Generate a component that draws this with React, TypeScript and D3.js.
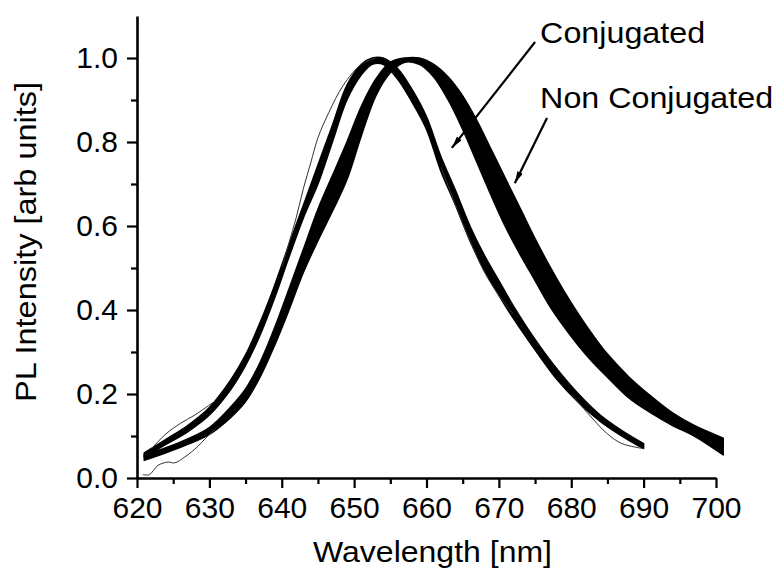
import React, { useEffect, useRef } from "react";
import * as d3 from "d3";

// ---- data ----
const X_MAJOR = [620, 630, 640, 650, 660, 670, 680, 690, 700];
const X_MINOR = [625, 635, 645, 655, 665, 675, 685, 695];
const Y_MAJOR = [0, 0.2, 0.4, 0.6, 0.8, 1.0];
const Y_MINOR = [0.1, 0.3, 0.5, 0.7, 0.9];

// red-shifted thick bundle envelope
const bandA_wl = [621, 624, 627, 630, 633, 635, 637, 639, 641, 643, 645, 647, 649, 651, 653, 655, 657, 659, 661, 663, 665, 667, 669, 671, 673, 675, 677, 679, 681, 683, 685, 688, 691, 694, 697, 701];
const bandA_hi = [0.056, 0.072, 0.093, 0.12, 0.17, 0.212, 0.275, 0.357, 0.45, 0.545, 0.64, 0.72, 0.8, 0.885, 0.95, 0.99, 1.0, 1.0, 0.985, 0.955, 0.91, 0.85, 0.78, 0.71, 0.64, 0.57, 0.505, 0.445, 0.39, 0.34, 0.295, 0.24, 0.195, 0.155, 0.125, 0.095];
const bandA_lo = [0.042, 0.06, 0.08, 0.104, 0.145, 0.182, 0.24, 0.315, 0.4, 0.49, 0.565, 0.635, 0.71, 0.815, 0.91, 0.965, 0.99, 0.985, 0.955, 0.9, 0.83, 0.75, 0.67, 0.595, 0.53, 0.47, 0.41, 0.36, 0.315, 0.275, 0.24, 0.19, 0.155, 0.125, 0.1, 0.055];

// blue-shifted thinner bundle envelope
const bandB_wl = [621, 624, 627, 630, 633, 635, 637, 639, 641, 643, 645, 647, 649, 651, 652.5, 654, 656, 658, 660, 662, 664, 666, 668, 670, 672, 675, 678, 681, 684, 687, 690];
const bandB_hi = [0.06, 0.092, 0.125, 0.168, 0.235, 0.293, 0.37, 0.458, 0.556, 0.65, 0.745, 0.84, 0.935, 0.985, 1.0, 1.0, 0.975, 0.925, 0.86, 0.765, 0.685, 0.6, 0.53, 0.47, 0.41, 0.33, 0.26, 0.2, 0.15, 0.113, 0.082];
const bandB_lo = [0.05, 0.08, 0.11, 0.15, 0.212, 0.268, 0.34, 0.428, 0.526, 0.62, 0.7, 0.8, 0.9, 0.96, 0.985, 0.985, 0.95, 0.895, 0.83, 0.73, 0.65, 0.565, 0.495, 0.435, 0.38, 0.305, 0.235, 0.18, 0.135, 0.1, 0.07];

// individual thin outlier traces
const thin1_wl = [640, 641, 642, 643, 644, 645, 646.5, 648.5, 651, 653];
const thin1_v = [0.5, 0.56, 0.62, 0.69, 0.75, 0.81, 0.87, 0.935, 0.985, 1.0];
const thin2_wl = [662, 664, 666, 668, 670, 672];
const thin2_v = [0.74, 0.65, 0.565, 0.49, 0.435, 0.39];
const thin3_wl = [680, 682.5, 685, 687, 690];
const thin3_v = [0.2, 0.15, 0.105, 0.082, 0.07];
const thin4_wl = [620.8, 621.7, 622.9, 624.3, 625.2, 626.6, 628.4, 629.5, 631];
const thin4_v = [0.008, 0.008, 0.03, 0.038, 0.036, 0.05, 0.075, 0.095, 0.12];
const thin5_wl = [622, 624, 626, 628, 630.5];
const thin5_v = [0.07, 0.105, 0.13, 0.15, 0.18];

const X_LABEL = "Wavelength [nm]";
const Y_LABEL = "PL Intensity [arb units]";
const ANN1 = "Conjugated";
const ANN2 = "Non Conjugated";
// arrow endpoints in data coordinates [tailWl, tailV, headWl, headV]
const ARROW1 = [675.0, 1.038, 663.5, 0.786];
const ARROW2 = [676.65, 0.857, 672.2, 0.702];
const ANN1_POS = [675.7, 1.036];
const ANN2_POS = [675.7, 0.881];

const FONT = "'Liberation Sans', Arial, Helvetica, sans-serif";

export default function App() {
  const ref = useRef<SVGSVGElement>(null);

  useEffect(() => {
    const svg = d3.select(ref.current);
    svg.selectAll("*").remove();
    const x = d3.scaleLinear().domain([620, 700]).range([137, 716]);
    const y = d3.scaleLinear().domain([0, 1.1]).range([478, 16]);

    const defs = svg.append("defs");
    defs
      .append("marker")
      .attr("id", "ah")
      .attr("viewBox", "0 0 12 6")
      .attr("refX", 12)
      .attr("refY", 3)
      .attr("markerWidth", 12)
      .attr("markerHeight", 6)
      .attr("markerUnits", "userSpaceOnUse")
      .attr("orient", "auto")
      .append("path")
      .attr("d", "M0,0 L12,3 L0,6 Z")
      .attr("fill", "#000");

    const curves = svg.append("g");
    const band = (wl: number[], hi: number[], lo: number[]) =>
      d3
        .area<number>()
        .x((_, i) => x(wl[i]))
        .y0((_, i) => y(lo[i]))
        .y1((_, i) => y(hi[i]))
        .curve(d3.curveCatmullRom.alpha(0.5))(wl);

    curves
      .append("path")
      .attr("d", band(bandB_wl, bandB_hi, bandB_lo) as string)
      .attr("fill", "#000")
      .attr("stroke", "#000")
      .attr("stroke-width", 1.5)
      .attr("stroke-linejoin", "round");
    curves
      .append("path")
      .attr("d", band(bandA_wl, bandA_hi, bandA_lo) as string)
      .attr("fill", "#000")
      .attr("stroke", "#000")
      .attr("stroke-width", 1.5)
      .attr("stroke-linejoin", "round");

    const thinLine = (wl: number[], v: number[]) =>
      d3
        .line<number>()
        .x((_, i) => x(wl[i]))
        .y((_, i) => y(v[i]))
        .curve(d3.curveCatmullRom.alpha(0.5))(wl);
    [
      [thin1_wl, thin1_v],
      [thin2_wl, thin2_v],
      [thin3_wl, thin3_v],
      [thin4_wl, thin4_v],
      [thin5_wl, thin5_v],
    ].forEach(([wl, v]) => {
      curves
        .append("path")
        .attr("d", thinLine(wl, v) as string)
        .attr("fill", "none")
        .attr("stroke", "#333")
        .attr("stroke-width", 1);
    });

    // axes
    const styleAxis = (g: d3.Selection<SVGGElement, unknown, null, undefined>) => {
      g.select(".domain").attr("stroke-width", 2.6).attr("stroke", "#000");
      g.selectAll(".tick line").attr("stroke-width", 2.2).attr("stroke", "#000");
      g.selectAll(".tick text")
        .attr("font-family", FONT)
        .attr("font-size", 30)
        .attr("fill", "#000");
    };

    const xMinor = svg.append("g").attr("transform", `translate(0,${y(0)})`);
    xMinor.call(d3.axisBottom(x).tickValues(X_MINOR).tickSize(6).tickSizeOuter(0).tickFormat(() => ""));
    xMinor.select(".domain").remove();
    xMinor.selectAll(".tick line").attr("stroke-width", 2.2);
    const yMinor = svg.append("g").attr("transform", `translate(${x(620)},0)`);
    yMinor.call(d3.axisLeft(y).tickValues(Y_MINOR).tickSize(6).tickSizeOuter(0).tickFormat(() => ""));
    yMinor.select(".domain").remove();
    yMinor.selectAll(".tick line").attr("stroke-width", 2.2);

    const xAxis = svg.append("g").attr("transform", `translate(0,${y(0)})`);
    xAxis.call(
      d3.axisBottom(x).tickValues(X_MAJOR).tickSize(10).tickSizeOuter(0).tickPadding(9).tickFormat(d3.format("d"))
    );
    styleAxis(xAxis);
    const yAxis = svg.append("g").attr("transform", `translate(${x(620)},0)`);
    yAxis.call(
      d3.axisLeft(y).tickValues(Y_MAJOR).tickSize(10).tickSizeOuter(0).tickPadding(9).tickFormat(d3.format(".1f"))
    );
    styleAxis(yAxis);

    // titles
    svg
      .append("text")
      .attr("x", 313)
      .attr("y", 562)
      .attr("font-family", FONT)
      .attr("font-size", 29)
      .attr("textLength", 239)
      .attr("lengthAdjust", "spacingAndGlyphs")
      .text(X_LABEL);
    svg
      .append("text")
      .attr("transform", `translate(36,402) rotate(-90)`)
      .attr("font-family", FONT)
      .attr("font-size", 29)
      .attr("textLength", 320)
      .attr("lengthAdjust", "spacingAndGlyphs")
      .text(Y_LABEL);

    // annotations
    const ann = svg.append("g");
    [ARROW1, ARROW2].forEach((arr) => {
      ann
        .append("line")
        .attr("x1", x(arr[0]))
        .attr("y1", y(arr[1]))
        .attr("x2", x(arr[2]))
        .attr("y2", y(arr[3]))
        .attr("stroke", "#000")
        .attr("stroke-width", 2.2)
        .attr("marker-end", "url(#ah)");
    });
    ann
      .append("text")
      .attr("x", x(ANN1_POS[0]))
      .attr("y", y(ANN1_POS[1]))
      .attr("font-family", FONT)
      .attr("font-size", 29)
      .attr("textLength", 165)
      .attr("lengthAdjust", "spacingAndGlyphs")
      .text(ANN1);
    ann
      .append("text")
      .attr("x", x(ANN2_POS[0]))
      .attr("y", y(ANN2_POS[1]))
      .attr("font-family", FONT)
      .attr("font-size", 29)
      .attr("textLength", 233)
      .attr("lengthAdjust", "spacingAndGlyphs")
      .text(ANN2);
  }, []);

  return (
    <svg
      ref={ref}
      width={777}
      height={571}
      style={{ position: "absolute", left: 0, top: 0, display: "block", background: "#fff" }}
    />
  );
}
